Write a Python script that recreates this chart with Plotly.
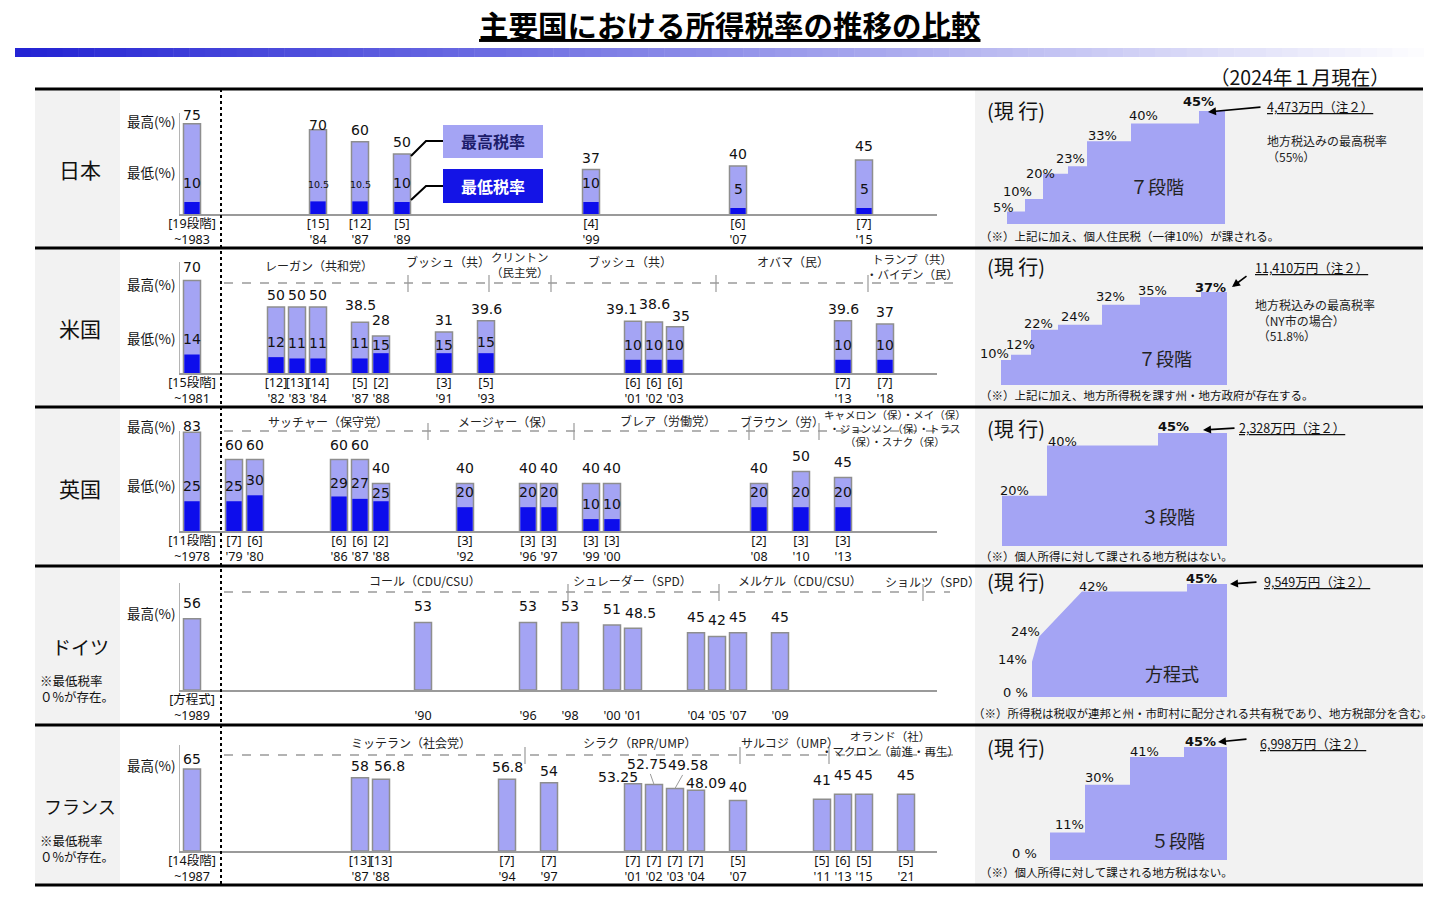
import plotly.graph_objects as go

# ------------------------------------------------------------------ data
jp_years = [1983, 1984, 1987, 1989, 1999, 2007, 2015]
jp_max = [75, 70, 60, 50, 37, 40, 45]
jp_min = [10, 10.5, 10.5, 10, 10, 5, 5]
jp_steps = ["19段階", "15", "12", "5", "4", "6", "7"]

us_years = [1981, 1982, 1983, 1984, 1987, 1988, 1991, 1993, 2001, 2002, 2003, 2013, 2018]
us_max = [70, 50, 50, 50, 38.5, 28, 31, 39.6, 39.1, 38.6, 35, 39.6, 37]
us_min = [14, 12, 11, 11, 11, 15, 15, 15, 10, 10, 10, 10, 10]
us_steps = ["15段階", "12", "13", "14", "5", "2", "3", "5", "6", "6", "6", "7", "7"]

uk_years = [1978, 1979, 1980, 1986, 1987, 1988, 1992, 1996, 1997, 1999, 2000, 2008, 2010, 2013]
uk_max = [83, 60, 60, 60, 60, 40, 40, 40, 40, 40, 40, 40, 50, 45]
uk_min = [25, 25, 30, 29, 27, 25, 20, 20, 20, 10, 10, 20, 20, 20]
uk_steps = ["11段階", "7", "6", "6", "6", "2", "3", "3", "3", "3", "3", "2", "3", "3"]

de_years = [1989, 1990, 1996, 1998, 2000, 2001, 2004, 2005, 2007, 2009]
de_max = [56, 53, 53, 53, 51, 48.5, 45, 42, 45, 45]
de_steps = ["方程式", "", "", "", "", "", "", "", "", ""]

fr_years = [1987, 1987, 1988, 1994, 1997, 2001, 2002, 2003, 2004, 2007, 2011, 2013, 2015, 2021]
fr_max = [65, 58, 56.8, 56.8, 54, 53.25, 52.75, 49.58, 48.09, 40, 41, 45, 45, 45]
fr_steps = ["14段階", "13", "13", "7", "7", "7", "7", "7", "7", "5", "5", "6", "5", "5"]

us_leaders = ["レーガン（共和党）", "ブッシュ（共）", "クリントン<br>（民主党）", "ブッシュ（共）",
              "オバマ（民）", "トランプ（共）<br>・バイデン（民）"]
uk_leaders = ["サッチャー（保守党）", "メージャー（保）", "ブレア（労働党）", "ブラウン（労）",
              "キャメロン（保）・メイ（保）<br>・ジョンソン（保）・トラス<br>（保）・スナク（保）"]
de_leaders = ["コール（CDU/CSU）", "シュレーダー（SPD）", "メルケル（CDU/CSU）", "ショルツ（SPD）"]
fr_leaders = ["ミッテラン（社会党）", "シラク（RPR/UMP）", "サルコジ（UMP）", "オランド（社）<br>・マクロン（前進・再生）"]

# current schedules (2024)
jp_now = [5, 10, 20, 23, 33, 40, 45]
us_now = [10, 12, 22, 24, 32, 35, 37]
uk_now = [20, 40, 45]
fr_now = [0, 11, 30, 41, 45]
de_now = [0, 14, 24, 42, 42, 45, 45]
jp_top_income = "4,473万円（注２）"
us_top_income = "11,410万円（注２）"
uk_top_income = "2,328万円（注２）"
de_top_income = "9,549万円（注２）"
fr_top_income = "6,998万円（注２）"

# ------------------------------------------------------------------ style
W, H = 1452, 898
def X(p): return p / W
def Y(p): return 1 - p / H

NUM = "DejaVu Sans, Noto Sans CJK JP, sans-serif"
TICK = "Noto Sans, Noto Sans CJK JP, sans-serif"
JP = "Noto Sans CJK JP, DejaVu Sans, sans-serif"
LIGHT = "#a4a4f4"
DARK = "#0d0dec"
EDGE = "#8e8e8e"
BG = "#f2f2f2"
DASH = "#9a9a9a"

SLOT0, SLOTW, AXL, AXR = 192, 21, 180, 937
BAR_W = 0.81

later = sorted({y for ys in (jp_years, us_years, uk_years, de_years, fr_years) for y in ys[1:]})
timeline = ["pre", "gap"] + later
slot = {y: i for i, y in enumerate(timeline)}

# visual widths of brackets in the right panels
STEP_W = {"jp": [18, 18, 25, 19, 44, 68, 26], "us": [10, 20, 27, 44, 38, 61, 26],
          "uk": [45, 111, 69], "fr": [42, 35, 45, 54, 43]}
DE_X = [0, 0, 7, 50, 155, 155, 195]

ROWS = [
    dict(key="jp", name="日本", nsize=21, years=jp_years, vmax=jp_max, vmin=jp_min, steps=jp_steps,
         base=214, top=113, rtop=89, rbot=248, maxd=12, mind=19, lab_hi=121, lab_lo=172,
         maxo={0: (0, 9), 1: (0, 5), 6: (0, 14)}, mino={1: 17, 2: 17}),
    dict(key="us", name="米国", nsize=21, years=us_years, vmax=us_max, vmin=us_min, steps=us_steps,
         base=373, top=262, rtop=248, rbot=407, maxd=12, mind=15, lab_hi=284, lab_lo=338,
         maxo={0: (0, 13), 4: (0, 17), 5: (0, 16), 8: (-12, 12), 9: (0, 18), 10: (6, 11)},
         mino={5: 8, 6: 8, 7: 11}),
    dict(key="uk", name="英国", nsize=21, years=uk_years, vmax=uk_max, vmin=uk_min, steps=uk_steps,
         base=531, top=431, rtop=407, rbot=566, maxd=15, mind=15, lab_hi=426, lab_lo=485,
         maxo={0: (0, 6)}, mino={5: 8, 3: 13, 4: 16}),
    dict(key="de", name="ドイツ", nsize=19, years=de_years, vmax=de_max, vmin=None, steps=de_steps,
         base=690, top=583, rtop=566, rbot=725, maxd=16, mind=0, lab_hi=613, lab_lo=None,
         maxo={5: (7, 15), 7: (0, 17)}, mino={}),
    dict(key="fr", name="フランス", nsize=18, years=fr_years, vmax=fr_max, vmin=None, steps=fr_steps,
         base=851, top=745, rtop=725, rbot=885, maxd=12, mind=0, lab_hi=765, lab_lo=None,
         maxo={0: (0, 10), 2: (8, 13), 5: (-15, 7), 8: (10, 7), 9: (0, 14), 10: (0, 19),
               11: (0, 19), 12: (0, 19), 13: (0, 19)}, mino={}),
]
FR_ARROW = {6: (-7, -20), 7: (13, -23)}

LEADERS = {
    "us": dict(names=us_leaders, y=283, x0=224, x1=957, seps=[408, 489, 551, 716, 868],
               pos=[(319, 265), (448, 262), (520, 264), (630, 262), (793, 262), (912, 266)], size=12),
    "uk": dict(names=uk_leaders, y=431, x0=224, x1=962, seps=[428, 574, 749, 819],
               pos=[(328, 421), (505, 421), (668, 420), (782, 421), (895, 428)], size=12),
    "de": dict(names=de_leaders, y=592, x0=224, x1=950, seps=[568, 719, 923],
               pos=[(425, 580), (632, 580), (800, 580), (932, 581)], size=12),
    "fr": dict(names=fr_leaders, y=755, x0=224, x1=955, seps=[525, 740, 829],
               pos=[(411, 742), (640, 742), (790, 742), (890, 743)], size=12),
}

PANELS = [
    dict(key="jp", rates=jp_now, x0=1007, bottom=224, head="７段階", hx=1157, hy=186,
         off=[(-4, -4), (-8, -7), (-3, 0), (2, -8), (15, -6), (12, -8), (-1, -10)],
         inc=jp_top_income, incx=1265, incy=106, arrow=((1262, 107), (1208, 112)),
         side="地方税込みの最高税率<br>（55%）", sx=1265, sy=149,
         note="（※）上記に加え、個人住民税（一律10%）が課される。", ny=236, nx=978),
    dict(key="us", rates=us_now, x0=1001, bottom=385, head="７段階", hx=1165, hy=358,
         off=[(-7, -6), (9, -10), (7, -6), (17, -8), (8, -8), (12, -7), (9, -5)],
         inc=us_top_income, incx=1253, incy=267, arrow=((1248, 275), (1232, 287)),
         side="地方税込みの最高税率<br> （NY市の場合）<br> （51.8%）", sx=1253, sy=320,
         note="（※）上記に加え、地方所得税を課す州・地方政府が存在する。", ny=395, nx=978),
    dict(key="uk", rates=uk_now, x0=1002, bottom=546, head="３段階", hx=1168, hy=516,
         off=[(12, -5), (15, -4), (15, -7)],
         inc=uk_top_income, incx=1237, incy=427, arrow=((1236, 428), (1203, 430)),
         side="", sx=0, sy=0,
         note="（※）個人所得に対して課される地方税はない。", ny=556, nx=978),
    dict(key="de", rates=de_now, x0=1032, bottom=697, head="方程式", hx=1172, hy=673,
         off=[(-17, -5), (-20, -2), (-14, -5), (11, -5), None, (14, -6), None],
         inc=de_top_income, incx=1262, incy=581, arrow=((1258, 582), (1230, 584)),
         side="", sx=0, sy=0,
         note="（※）所得税は税収が連邦と州・市町村に配分される共有税であり、地方税部分を含む。", ny=713, nx=971),
    dict(key="fr", rates=fr_now, x0=1008, bottom=860, head="５段階", hx=1178, hy=840,
         off=[(16, -7), (19, -8), (14, -7), (14, -6), (16, -6)],
         inc=fr_top_income, incx=1258, incy=743, arrow=((1248, 739), (1218, 742)),
         side="", sx=0, sy=0,
         note="（※）個人所得に対して課される地方税はない。", ny=872, nx=978),
]
PX_PER_PCT = 113 / 45

# ------------------------------------------------------------------ figure
fig = go.Figure()
shapes, annotations = [], []
layout = dict(width=W, height=H, autosize=False,
              margin=dict(l=0, r=0, t=0, b=0, pad=0, autoexpand=False), paper_bgcolor="white",
              plot_bgcolor="rgba(0,0,0,0)", showlegend=False, barmode="overlay")


def ann(text, x, y, size=12, color="#111", family=JP, xanchor="center", yanchor="middle", **kw):
    d = dict(text=text, x=X(x), y=Y(y), xref="paper", yref="paper", showarrow=False,
             font=dict(size=size, color=color, family=family), xanchor=xanchor, yanchor=yanchor)
    d.update(kw)
    annotations.append(d)


def line(x0, y0, x1, y1, color="black", width=1, dash="solid", layer="above"):
    shapes.append(dict(type="line", xref="paper", yref="paper", x0=X(x0), y0=Y(y0), x1=X(x1), y1=Y(y1),
                       line=dict(color=color, width=width, dash=dash), layer=layer))


def rect(x0, y0, x1, y1, color, layer="below"):
    shapes.append(dict(type="rect", xref="paper", yref="paper", x0=X(x0), y0=Y(y0), x1=X(x1), y1=Y(y1),
                       fillcolor=color, line=dict(width=0), layer=layer))


# header
ann("<b><u>主要国における所得税率の推移の比較</u></b>", 730, 24, size=29.5, color="black")
n = 90
for k in range(n):
    t = k / (n - 1)
    c0 = (36, 36, 212)
    col = tuple(int(c0[j] + (255 - c0[j]) * t) for j in range(3))
    x0 = 15 + (1440 - 15) * k / n
    x1 = 15 + (1440 - 15) * (k + 1) / n + 0.5
    rect(x0, 48, x1, 57, "rgb(%d,%d,%d)" % col)
ann("（2024年１月現在）", 1392, 76, size=19.5, color="#111", xanchor="right")

# table backgrounds / rules
rect(35, 89, 120, 885, BG)
rect(975, 89, 1423, 885, BG)
for yy in [89, 248, 407, 566, 725, 885]:
    line(35, yy, 1423, yy, "black", 3)
line(221, 89, 221, 885, "black", 2, "dot")

# bar rows
for i, r in enumerate(ROWS, start=1):
    sfx = "" if i == 1 else str(i)
    xs = [0] + [slot[y] for y in r["years"][1:]]
    tt = []
    for j, (y, s) in enumerate(zip(r["years"], r["steps"])):
        yl = "~%d" % y if j == 0 else "'%02d" % (y % 100)
        tt.append(("[%s]" % s if s else " ") + "<br>" + yl)
    layout["xaxis" + sfx] = dict(domain=[X(AXL), X(AXR)],
                                 range=[(AXL - SLOT0) / SLOTW, (AXR - SLOT0) / SLOTW],
                                 anchor="y" + sfx, showline=True, linecolor=DASH, linewidth=1.5,
                                 showgrid=False, zeroline=False, ticks="", tickmode="array",
                                 tickvals=xs, ticktext=tt, tickangle=0, automargin=False,
                                 ticklabelstandoff=-3,
                                 tickfont=dict(family=TICK, size=12.5, color="#111"), fixedrange=True)
    layout["yaxis" + sfx] = dict(domain=[Y(r["base"]), Y(r["top"])], range=[0, 84], anchor="x" + sfx,
                                 showline=True, linecolor="#b4b4b4", linewidth=1.5, showgrid=False,
                                 zeroline=False, showticklabels=False, ticks="", fixedrange=True,
                                 automargin=False)
    fig.add_trace(go.Bar(x=xs, y=r["vmax"], width=BAR_W, xaxis="x" + sfx, yaxis="y" + sfx,
                         marker=dict(color=LIGHT, line=dict(color=EDGE, width=1.5)), hoverinfo="skip"))
    if r["vmin"]:
        fig.add_trace(go.Bar(x=xs, y=r["vmin"], width=BAR_W - 0.08, xaxis="x" + sfx, yaxis="y" + sfx,
                             marker=dict(color=DARK, line=dict(width=0)), hoverinfo="skip"))
    # max labels
    for j, (xv, v) in enumerate(zip(xs, r["vmax"])):
        txt = "%g" % v
        if r["key"] == "fr" and j in FR_ARROW:
            ax, ay = FR_ARROW[j]
            annotations.append(dict(text=txt, x=xv, y=v, xref="x" + sfx, yref="y" + sfx, showarrow=True,
                                    arrowhead=0, arrowwidth=1, arrowcolor="#9a9a9a", ax=ax, ay=ay,
                                    standoff=0, font=dict(family=NUM, size=14, color="#111")))
            continue
        dx, dd = r["maxo"].get(j, (0, r["maxd"]))
        annotations.append(dict(text=txt, x=xv, y=v, xref="x" + sfx, yref="y" + sfx, showarrow=False,
                                xshift=dx, yshift=dd, yanchor="middle",
                                font=dict(family=NUM, size=14, color="#111")))
    if r["vmin"]:
        for j, (xv, v) in enumerate(zip(xs, r["vmin"])):
            dd = r["mino"].get(j, r["mind"])
            small = v != int(v)
            annotations.append(dict(text="%g" % v, x=xv, y=v, xref="x" + sfx, yref="y" + sfx,
                                    showarrow=False, yshift=dd, yanchor="middle",
                                    font=dict(family=NUM, size=9.5 if small else 14, color="#111")))
    # row labels
    ann("最高(%)", 178, r["lab_hi"], size=13.5, xanchor="right")
    if r["lab_lo"]:
        ann("最低(%)", 178, r["lab_lo"], size=13.5, xanchor="right")
    cy = (r["rtop"] + r["rbot"]) / 2 + 1
    ann(r["name"], 80, cy, size=r["nsize"], color="#111")
    if not r["vmin"]:
        ann("※最低税率<br>０%が存在。", 38, r["rbot"] - 37, size=12.5, xanchor="left", align="left")

# leaders
for key, L in LEADERS.items():
    line(L["x0"], L["y"], L["x1"], L["y"], DASH, 1.5, "dash")
    for s in L["seps"]:
        line(s, L["y"] - 8, s, L["y"] + 9, DASH, 1.2)
    for nm, (lx, ly) in zip(L["names"], L["pos"]):
        sz = 10.5 if nm.count("<br>") >= 2 else (11.5 if "<br>" in nm else L["size"])
        ann(nm, lx, ly, size=sz, color="#222")

# Japan legend
rect(443, 125, 543, 158, LIGHT, layer="above")
rect(443, 169, 543, 203, "#1414e6", layer="above")
ann("<b>最高税率</b>", 493, 141.5, size=16, color="#1c1c6a")
ann("<b>最低税率</b>", 493, 186, size=16, color="white")
shapes.append(dict(type="path", xref="paper", yref="paper",
                   path="M %f,%f L %f,%f L %f,%f" % (X(411), Y(156), X(426), Y(141), X(443), Y(141)),
                   line=dict(color="black", width=2)))
shapes.append(dict(type="path", xref="paper", yref="paper",
                   path="M %f,%f L %f,%f L %f,%f" % (X(411), Y(200), X(426), Y(186), X(443), Y(186)),
                   line=dict(color="black", width=2)))

# right panels
for k, P in enumerate(PANELS, start=6):
    sfx = str(k)
    if P["key"] == "de":
        xs = DE_X
        ys = P["rates"]
        span = DE_X[-1]
        fig.add_trace(go.Scatter(x=xs, y=ys, xaxis="x" + sfx, yaxis="y" + sfx, mode="lines",
                                 line=dict(width=0, color=LIGHT), fill="tozeroy", fillcolor=LIGHT,
                                 hoverinfo="skip"))
        lab_pts = [(xs[j], ys[j], P["off"][j]) for j in range(len(xs)) if P["off"][j] is not None]
    else:
        widths = STEP_W[P["key"]]
        edges = [0]
        for w in widths:
            edges.append(edges[-1] + w)
        span = edges[-1]
        xs = edges
        ys = P["rates"] + [P["rates"][-1]]
        fig.add_trace(go.Scatter(x=xs, y=ys, xaxis="x" + sfx, yaxis="y" + sfx, mode="lines",
                                 line=dict(width=0, color=LIGHT, shape="hv"), fill="tozeroy",
                                 fillcolor=LIGHT, hoverinfo="skip"))
        lab_pts = [(edges[j], P["rates"][j], P["off"][j]) for j in range(len(P["rates"]))]
    layout["xaxis" + sfx] = dict(domain=[X(P["x0"]), X(P["x0"] + span)], range=[0, span],
                                 anchor="y" + sfx, visible=False, fixedrange=True, automargin=False)
    layout["yaxis" + sfx] = dict(domain=[Y(P["bottom"]), Y(P["bottom"] - 45 * PX_PER_PCT)],
                                 range=[0, 45], anchor="x" + sfx, visible=False, fixedrange=True,
                                 automargin=False)
    top_rate = max(P["rates"])
    for (lx, lv, (dx, dy)) in lab_pts:
        t = ("%g%%" % lv) if lv != 0 else "0 %"
        if lv == top_rate:
            t = "<b>%s</b>" % t
        annotations.append(dict(text=t, x=lx, y=lv, xref="x" + sfx, yref="y" + sfx, showarrow=False,
                                xshift=dx, yshift=-dy, xanchor="center", yanchor="middle",
                                font=dict(family=NUM, size=13, color="#111")))
    cy = {6: 110, 7: 266, 8: 428, 9: 581, 10: 747}[k]
    ann("(現 行)", 985, cy, size=20, color="#111", xanchor="left")
    ann(P["head"], P["hx"], P["hy"], size=18, color="#222")
    ann("<u>%s</u>" % P["inc"], P["incx"], P["incy"], size=12.5, color="#111", xanchor="left")
    (tx, ty), (hx, hy) = P["arrow"]
    annotations.append(dict(text="", x=X(hx), y=Y(hy), xref="paper", yref="paper", showarrow=True,
                            ax=tx - hx, ay=ty - hy, arrowhead=2, arrowsize=1, arrowwidth=1.6,
                            arrowcolor="black"))
    if P["side"]:
        ann(P["side"], P["sx"], P["sy"], size=12, color="#222", xanchor="left", align="left")
    ann(P["note"], P["nx"], P["ny"], size=11.5, color="#111", xanchor="left")

layout["shapes"] = shapes
layout["annotations"] = annotations
fig.update_layout(**layout)
fig.write_html("out.html", config={"displayModeBar": False, "staticPlot": True},
               post_script="document.body.style.margin='0';document.body.style.overflow='hidden';")
